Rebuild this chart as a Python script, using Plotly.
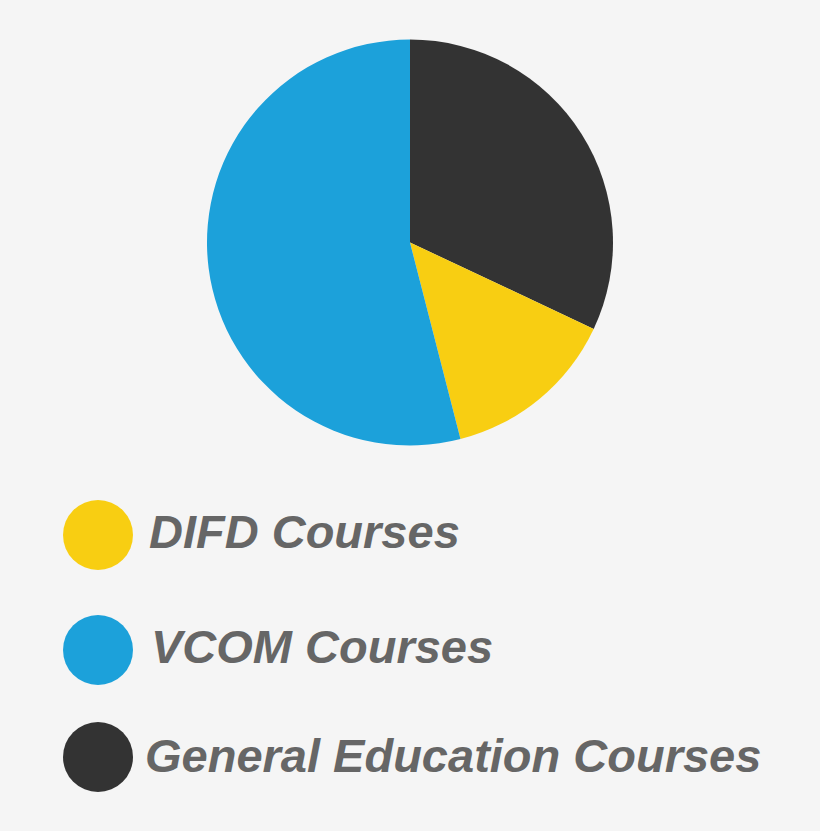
import plotly.graph_objects as go

categories = ["DIFD Courses", "VCOM Courses", "General Education Courses"]
values = [14, 54, 32]
colors = ["#F8CE12", "#1CA1DA", "#333333"]
pie_order = [2, 0, 1]  # clockwise from 12 o'clock

W, H = 820, 831
fig = go.Figure()

fig.add_trace(go.Pie(
    labels=[categories[i] for i in pie_order],
    values=[values[i] for i in pie_order],
    marker=dict(colors=[colors[i] for i in pie_order], line=dict(width=0)),
    sort=False, direction="clockwise", rotation=0,
    textinfo="none", hoverinfo="label+percent", showlegend=False,
    domain=dict(x=[(410 - 203) / W, (410 + 203) / W], y=[1 - 445.5 / H, 1 - 39.5 / H]),
))

legend_y = [535, 650, 757]
fig.add_trace(go.Scatter(
    x=[98] * 3, y=legend_y, mode="markers",
    marker=dict(size=70, color=colors, line=dict(width=0)),
    showlegend=False, hoverinfo="skip",
))
fig.add_trace(go.Scatter(
    x=[149, 151, 145], y=[536, 651, 760], mode="text", text=categories,
    textposition="middle right",
    textfont=dict(family="Liberation Sans", size=47, color="#666666", weight="bold", style="italic"),
    showlegend=False, hoverinfo="skip",
))

fig.update_layout(
    width=W, height=H, margin=dict(l=0, r=0, t=0, b=0),
    paper_bgcolor="#F5F5F5", plot_bgcolor="#F5F5F5",
    xaxis=dict(range=[0, W], visible=False, domain=[0, 1]),
    yaxis=dict(range=[H, 0], visible=False, domain=[0, 1]),
)
fig.write_html(
    "out.html",
    config={"displayModeBar": False},
    post_script="document.body.style.margin='0';document.body.style.background='#F5F5F5';document.body.style.overflow='hidden';",
)
